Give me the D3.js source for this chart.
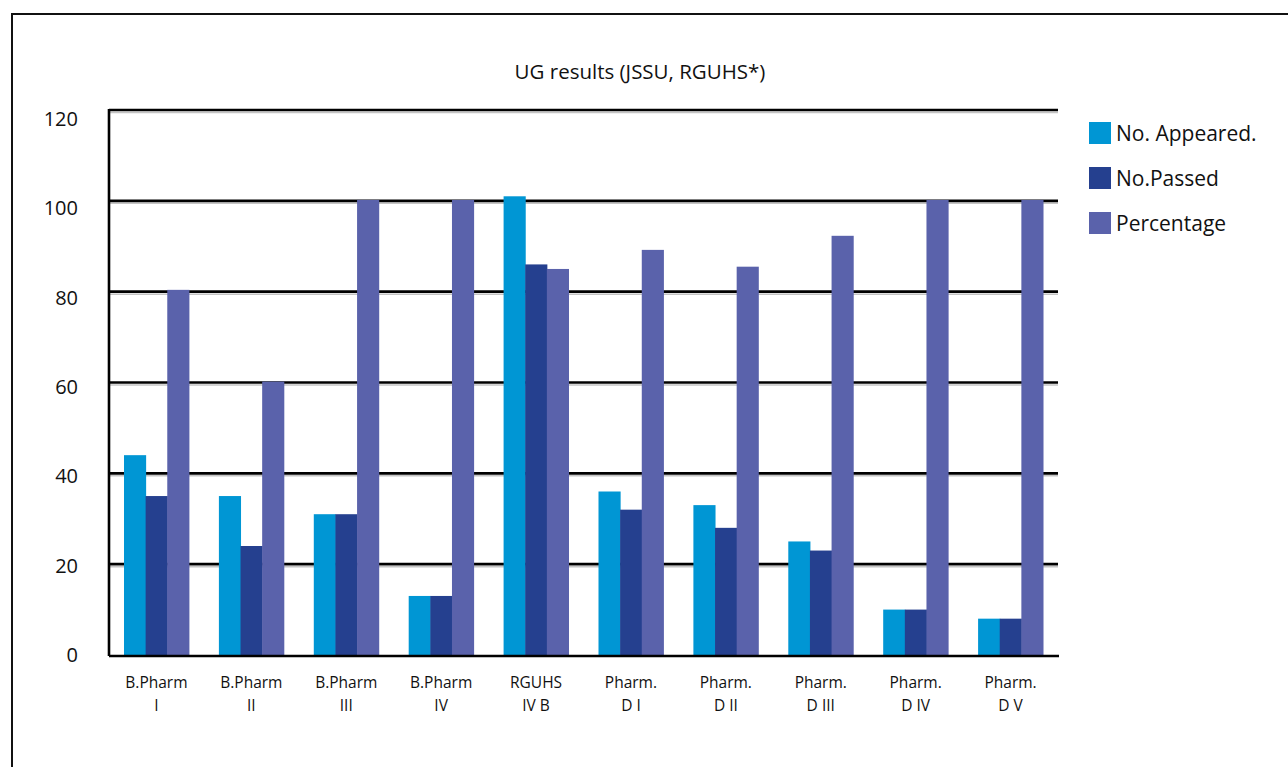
<!DOCTYPE html>
<html>
<head>
<meta charset="utf-8">
<script src="https://cdn.jsdelivr.net/npm/d3@7"></script>
<style>
  body { margin: 0; background: #fff; }
  text { font-family: "Open Sans", "Noto Sans", sans-serif; fill: #111; }
</style>
</head>
<body>
<div id="chart"></div>
<script>
// data
let categories = [["B.Pharm", "I"], ["B.Pharm", "II"], ["B.Pharm", "III"], ["B.Pharm", "IV"],
                  ["RGUHS", "IV B"], ["Pharm.", "D I"], ["Pharm.", "D II"], ["Pharm.", "D III"],
                  ["Pharm.", "D IV"], ["Pharm.", "D V"]];
let appeared   = [44, 35, 31, 13, 101, 36, 33, 25, 10, 8];
let passed     = [35, 24, 31, 13, 86, 32, 28, 23, 10, 8];
let percentage = [80.4, 60.2, 100.2, 100.2, 85, 89.2, 85.5, 92.3, 100.2, 100.2];
let seriesNames = ["No. Appeared.", "No.Passed", "Percentage"];
let seriesColors = ["#0096d4", "#25408f", "#5a62ab"];
let yTicks = [0, 20, 40, 60, 80, 100, 120];
let title = "UG results (JSSU, RGUHS*)";

let margin = {top: 110, right: 230, bottom: 112, left: 109},
    width = 1288 - margin.left - margin.right,
    height = 767 - margin.top - margin.bottom;

let svg = d3.select("#chart").append("svg")
    .attr("width", 1288)
    .attr("height", 767);

// outer frame
svg.append("rect")
    .attr("x", 12).attr("y", 14)
    .attr("width", 1300).attr("height", 800)
    .attr("fill", "none").attr("stroke", "#111").attr("stroke-width", 2);

svg.append("text")
    .attr("x", 640).attr("y", 79)
    .attr("text-anchor", "middle")
    .style("font-size", "20.5px")
    .text(title);

let g = svg.append("g")
    .attr("transform", "translate(" + margin.left + "," + margin.top + ")");

let keys = categories.map((c, i) => i);
let x = d3.scaleBand().domain(keys).range([0, width]).paddingInner(0.316).paddingOuter(0.158);
let xs = d3.scaleBand().domain([0, 1, 2]).range([0, x.bandwidth()]);
let y = d3.scaleLinear().domain([0, 120]).range([height, 0]);
// the tick labels sit a little off the gridlines in the original
let yLab = d3.scaleLinear().domain([0, 120]).range([height, 9]);

// gridlines with a light shadow
g.selectAll(".shadow").data(yTicks.filter(d => d > 0)).join("line")
    .attr("x1", 0).attr("x2", width)
    .attr("y1", d => y(d) + 2.5).attr("y2", d => y(d) + 2.5)
    .attr("stroke", "#c4c4c4").attr("stroke-width", 1.5);
g.selectAll(".grid").data(yTicks.filter(d => d > 0)).join("line")
    .attr("x1", 0).attr("x2", width)
    .attr("y1", d => y(d)).attr("y2", d => y(d))
    .attr("stroke", "#000").attr("stroke-width", 2.6);

// left axis line
g.append("line")
    .attr("x1", 0).attr("x2", 0)
    .attr("y1", y(120) - 1).attr("y2", height + 1)
    .attr("stroke", "#000").attr("stroke-width", 2.6);

let series = [appeared, passed, percentage];
series.forEach((vals, s) => {
    g.selectAll(".bar" + s).data(vals).join("rect")
        .attr("x", (d, i) => x(i) + xs(s))
        .attr("y", d => y(d))
        .attr("width", xs.bandwidth() + 0.5)
        .attr("height", d => height - y(d))
        .attr("fill", seriesColors[s]);
});

// baseline
g.append("line")
    .attr("x1", 0).attr("x2", width + 1)
    .attr("y1", height + 1).attr("y2", height + 1)
    .attr("stroke", "#000").attr("stroke-width", 2.4);

// y tick labels
g.selectAll(".ylab").data(yTicks).join("text")
    .attr("x", -31).attr("y", d => yLab(d) + 7)
    .attr("text-anchor", "end")
    .style("font-size", "20px")
    .text(d => d);

// category labels
let cat = g.selectAll(".cat").data(categories).join("text")
    .attr("text-anchor", "middle")
    .style("font-size", "15.5px");
cat.append("tspan")
    .attr("x", (d, i) => x(i) + x.bandwidth() / 2)
    .attr("y", height + 33)
    .text(d => d[0]);
cat.append("tspan")
    .attr("x", (d, i) => x(i) + x.bandwidth() / 2)
    .attr("y", height + 56)
    .text(d => d[1]);

// legend
let legend = svg.append("g").attr("transform", "translate(1089,122)");
seriesNames.forEach((name, i) => {
    legend.append("rect")
        .attr("x", 0).attr("y", i * 45)
        .attr("width", 22).attr("height", 22)
        .attr("fill", seriesColors[i]);
    legend.append("text")
        .attr("x", 27).attr("y", i * 45 + 19)
        .style("font-size", "21px")
        .text(name);
});
</script>
</body>
</html>
